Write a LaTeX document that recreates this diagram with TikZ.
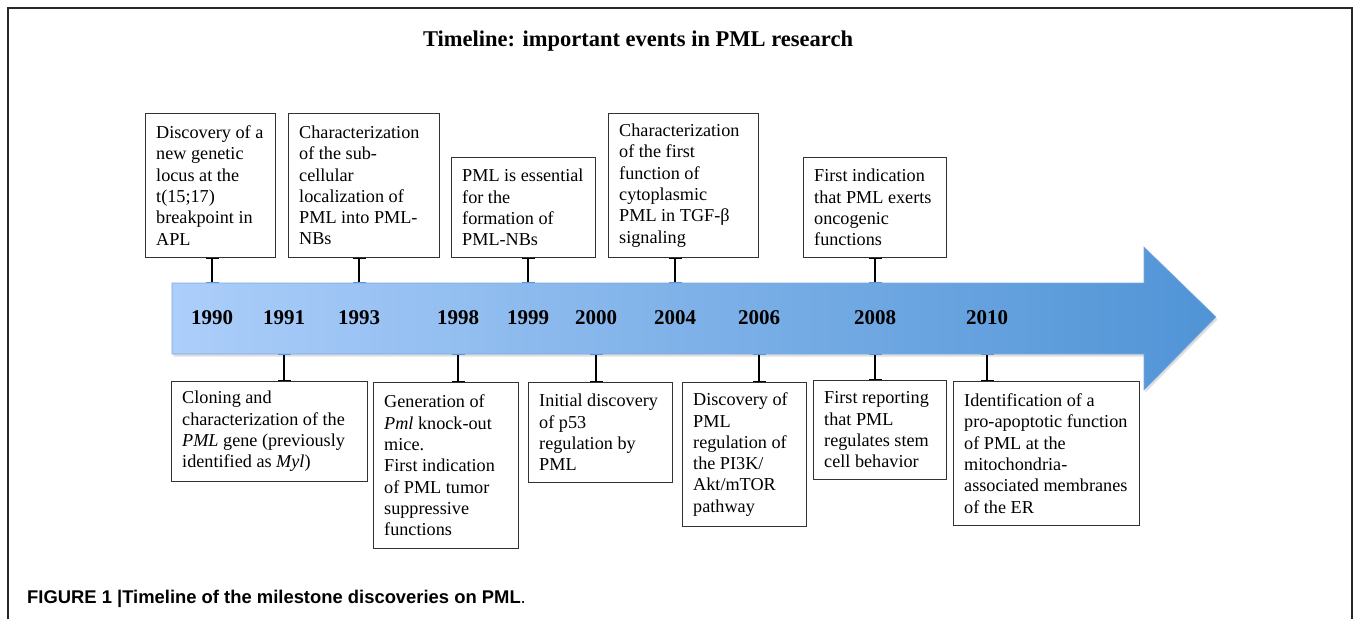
\documentclass[tikz,border=0pt]{standalone}
\usepackage{fontspec}
\setmainfont{Liberation Serif}
\newfontfamily\capfont{Liberation Sans}
\usetikzlibrary{arrows.meta,shadows}
\definecolor{arrL}{RGB}{172,206,250}
\definecolor{arrM}{RGB}{152,193,241}
\definecolor{arrR}{RGB}{80,148,214}
\definecolor{arrEdge}{RGB}{125,168,222}
\definecolor{barblue}{RGB}{90,150,215}
\definecolor{framegray}{RGB}{40,40,40}
\definecolor{boxgray}{RGB}{50,50,50}
\tikzset{
  evbox/.style={draw=boxgray, line width=1pt, inner sep=0pt, anchor=north west},
  evtext/.style={anchor=west, align=left, inner sep=0pt, font=\fontsize{18.2}{21.3}\selectfont},
  yearlabel/.style={anchor=base, inner sep=0pt, font=\fontsize{21}{24}\selectfont\bfseries},
  conn/.style={line width=1.4pt, {Bar[width=13pt,line width=1.4pt]}-{Bar[width=13pt,line width=1.4pt,color=barblue]}},
  frameline/.style={line width=1.2pt, draw=framegray},
  bigarrow/.style={left color=arrL, middle color=arrM, right color=arrR, draw=arrEdge, line width=0.6pt,
    drop shadow={shadow xshift=1.5pt, shadow yshift=-2.5pt, opacity=0.25}},
}
\begin{document}
\begin{tikzpicture}[x=1pt,y=-1pt]
\useasboundingbox (0,0) rectangle (1354,619);
% frame
\draw[frameline] (8,619) -- (8,8) -- (1352,8) -- (1352,619);
% title
\node[anchor=base, inner sep=0pt, font=\fontsize{22.5}{26}\selectfont\bfseries] (title) at (638,46) {Timeline: important events in PML research};
% arrow
\path[bigarrow] (172,283) -- (1144,283) -- (1144,247) -- (1216,317) -- (1144,390) -- (1144,354) -- (172,354) -- cycle;
\coordinate (atop) at (0,283);
\coordinate (abot) at (0,354);
% years
\node[yearlabel] (y1990) at (212,324) {1990};
\node[yearlabel] (y1991) at (284,324) {1991};
\node[yearlabel] (y1993) at (359,324) {1993};
\node[yearlabel] (y1998) at (458,324) {1998};
\node[yearlabel] (y1999) at (528,324) {1999};
\node[yearlabel] (y2000) at (596,324) {2000};
\node[yearlabel] (y2004) at (675,324) {2004};
\node[yearlabel] (y2006) at (759,324) {2006};
\node[yearlabel] (y2008) at (875,324) {2008};
\node[yearlabel] (y2010) at (987,324) {2010};
% top boxes
\node[evbox, minimum width=130pt, minimum height=144pt] (b1990) at (145,113) {};
\node[evtext] (t1990) at ([xshift=11pt]b1990.west) {Discovery of a\\new genetic\\locus at the\\t(15;17)\\breakpoint in\\APL};
\node[evbox, minimum width=151pt, minimum height=144pt] (b1993) at (288,113) {};
\node[evtext] (t1993) at ([xshift=11pt]b1993.west) {Characterization\\of the sub-\\cellular\\localization of\\PML into PML-\\NBs};
\node[evbox, minimum width=144pt, minimum height=100pt] (b1999) at (451,157) {};
\node[evtext] (t1999) at ([xshift=11pt]b1999.west) {PML is essential\\for the\\formation of\\PML-NBs};
\node[evbox, minimum width=150pt, minimum height=144pt] (b2004) at (608,113) {};
\node[evtext] (t2004) at ([xshift=11pt]b2004.west) {Characterization\\of the first\\function of\\cytoplasmic\\PML in TGF-β\\signaling};
\node[evbox, minimum width=143pt, minimum height=100pt] (b2008a) at (803,157) {};
\node[evtext] (t2008a) at ([xshift=11pt]b2008a.west) {First indication\\that PML exerts\\oncogenic\\functions};
% bottom boxes
\node[evbox, minimum width=196pt, minimum height=100pt] (b1991) at (171,381) {};
\node[evtext] (t1991) at ([xshift=11pt]b1991.west) {Cloning and\\characterization of the\\\textit{PML} gene (previously\\identified as \textit{Myl})};
\node[evbox, minimum width=145pt, minimum height=166pt] (b1998) at (373,382) {};
\node[evtext] (t1998) at ([xshift=11pt]b1998.west) {Generation of\\\textit{Pml} knock-out\\mice.\\First indication\\of PML tumor\\suppressive\\functions};
\node[evbox, minimum width=144pt, minimum height=100pt] (b2000) at (528,382) {};
\node[evtext] (t2000) at ([xshift=11pt]b2000.west) {Initial discovery\\of p53\\regulation by\\PML};
\node[evbox, minimum width=124pt, minimum height=144pt] (b2006) at (682,382) {};
\node[evtext] (t2006) at ([xshift=11pt]b2006.west) {Discovery of\\PML\\regulation of\\the PI3K/\\Akt/mTOR\\pathway};
\node[evbox, minimum width=133pt, minimum height=99pt] (b2008b) at (813,380) {};
\node[evtext] (t2008b) at ([xshift=11pt]b2008b.west) {First reporting\\that PML\\regulates stem\\cell behavior};
\node[evbox, minimum width=186pt, minimum height=144pt] (b2010) at (953,381) {};
\node[evtext] (t2010) at ([xshift=11pt]b2010.west) {Identification of a\\pro-apoptotic function\\of PML at the\\mitochondria-\\associated membranes\\of the ER};
% connectors
\draw[conn] (b1990.south -| y1990) -- (y1990 |- atop);
\draw[conn] (b1993.south -| y1993) -- (y1993 |- atop);
\draw[conn] (b1999.south -| y1999) -- (y1999 |- atop);
\draw[conn] (b2004.south -| y2004) -- (y2004 |- atop);
\draw[conn] (b2008a.south -| y2008) -- (y2008 |- atop);
\draw[conn] (b1991.north -| y1991) -- (y1991 |- abot);
\draw[conn] (b1998.north -| y1998) -- (y1998 |- abot);
\draw[conn] (b2000.north -| y2000) -- (y2000 |- abot);
\draw[conn] (b2006.north -| y2006) -- (y2006 |- abot);
\draw[conn] (b2008b.north -| y2008) -- (y2008 |- abot);
\draw[conn] (b2010.north -| y2010) -- (y2010 |- abot);
% caption
\node[anchor=base west, inner sep=0pt, font=\capfont\fontsize{18.4}{22}\selectfont] (cap) at (27,603) {\bfseries FIGURE 1 |Timeline of the milestone discoveries on PML\mdseries.};
\end{tikzpicture}
\end{document}
